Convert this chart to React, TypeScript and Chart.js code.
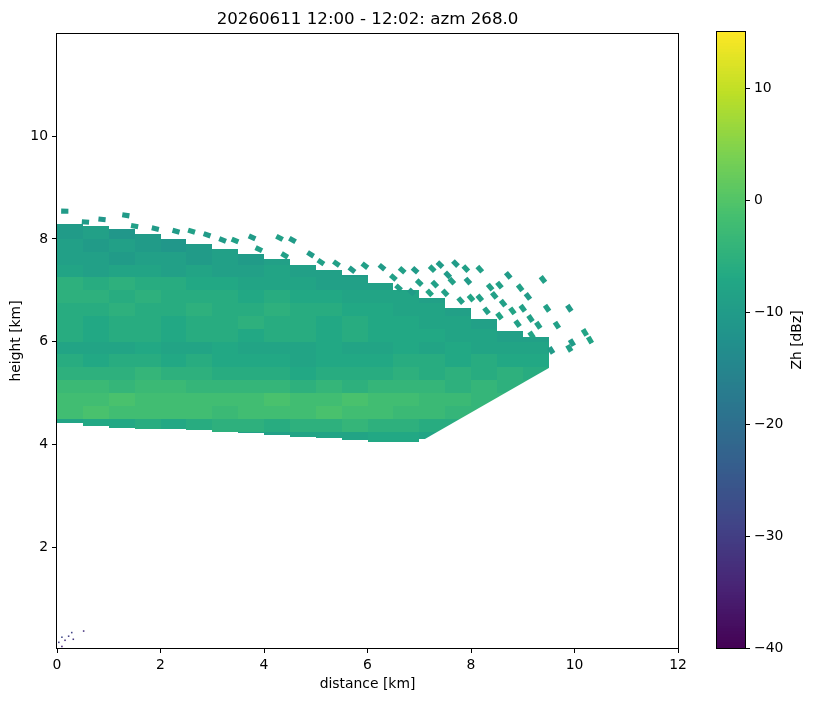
import React, { useEffect, useRef } from "react"
import { Chart, registerables } from "chart.js"

Chart.register(...registerables)
Chart.defaults.font.family = "DejaVu Sans"
Chart.defaults.color = "#000"

const titleText = "20260611 12:00 - 12:02: azm 268.0"
const xLabel = "distance [km]"
const yLabel = "height [km]"
const cbLabel = "Zh [dBz]"

const xTicks = [0, 2, 4, 6, 8, 10, 12]
const yTicks = [2, 4, 6, 8, 10]
const cbTicks = [-40, -30, -20, -10, 0, 10]
const zhMin = -40
const zhMax = 15

// lowest elevation of the scan (deg), everything below is not sampled
const lowestElevation = 30.0

// column centres (km) and row centres (km, top row first)
const distanceCenters = [0.25, 0.75, 1.25, 1.75, 2.25, 2.75, 3.25, 3.75, 4.25, 4.75, 5.25, 5.75, 6.25, 6.75, 7.25, 7.75, 8.25, 8.75, 9.25, 9.75, 10.25]
const heightCenters = [8.375, 8.125, 7.875, 7.625, 7.375, 7.125, 6.875, 6.625, 6.375, 6.125, 5.875, 5.625, 5.375, 5.125, 4.875, 4.625, 4.375, 4.125]

// echo layer base / top per column (km)
const layerBottom = [4.42, 4.35, 4.32, 4.3, 4.3, 4.28, 4.25, 4.22, 4.18, 4.15, 4.12, 4.08, 4.05, 4.05, 4.1, 4.1, 4.1, 4.1, 4.1, null, null]
const layerTop = [8.3, 8.25, 8.2, 8.1, 8.0, 7.9, 7.8, 7.7, 7.6, 7.5, 7.4, 7.3, 7.15, 7.0, 6.85, 6.65, 6.45, 6.2, 6.1, null, null]

const _ = null
// Zh (dBz), rows follow heightCenters, columns follow distanceCenters
const zhRows: (number | null)[][] = [
  [-10, -10, _, _, _, _, _, _, _, _, _, _, _, _, _, _, _, _, _, _, _],
  [-10, -9, -11, -10, _, _, _, _, _, _, _, _, _, _, _, _, _, _, _, _, _],
  [-9, -10, -9, -10, -11, -10, -9, _, _, _, _, _, _, _, _, _, _, _, _, _, _],
  [-9, -9, -10, -9, -9, -10, -9, -10, -9, _, _, _, _, _, _, _, _, _, _, _, _],
  [-8, -9, -8, -8, -9, -8, -9, -9, -8, -9, -9, -10, _, _, _, _, _, _, _, _, _],
  [-5, -6, -5, -6, -6, -7, -7, -8, -8, -8, -9, -9, -9, _, _, _, _, _, _, _, _],
  [-5, -5, -6, -5, -6, -6, -6, -7, -6, -7, -7, -8, -8, -8, -9, _, _, _, _, _, _],
  [-6, -6, -5, -6, -6, -5, -6, -6, -5, -6, -6, -7, -7, -8, -8, -9, _, _, _, _, _],
  [-6, -7, -6, -6, -7, -6, -6, -5, -6, -6, -7, -6, -7, -7, -8, -8, -9, _, _, _, _],
  [-6, -7, -6, -6, -7, -6, -6, -7, -6, -6, -7, -6, -7, -7, -7, -8, -8, -9, -9, _, _],
  [-8, -8, -8, -7, -8, -8, -7, -8, -8, -8, -7, -8, -8, -7, -8, -7, -8, -8, -8, _, _],
  [-6, -7, -6, -6, -7, -6, -7, -7, -7, -8, -7, -7, -7, -6, -6, -7, -6, -7, -7, _, _],
  [-5, -5, -5, -4, -5, -5, -6, -6, -6, -7, -6, -6, -6, -5, -6, -5, -6, -5, -6, _, _],
  [-3, -3, -4, -3, -3, -4, -4, -4, -4, -5, -4, -5, -4, -4, -4, -5, -4, -5, -5, _, _],
  [-2, -2, -1, -2, -2, -2, -2, -2, -1, -2, -2, -1, -2, -2, -3, -3, -4, -4, _, _, _],
  [-2, -1, -2, -2, -2, -2, -3, -2, -2, -2, -1, -2, -2, -3, -3, -4, -4, _, _, _, _],
  [-8, -7, -7, -6, -7, -6, -5, -5, -6, -5, -5, -4, -5, -5, -6, -6, _, _, _, _, _],
  [_, _, _, _, _, _, -10, -9, -9, -8, -8, -8, -7, -7, -8, -8, _, _, _, _, _],
]

// isolated gates above the layer: [distance km, height km, Zh dBz]
const fragments: [number, number, number][] = [
  [0.15, 8.54, -10], [0.55, 8.33, -10], [0.87, 8.38, -11], [1.33, 8.46, -10],
  [1.5, 8.25, -9], [1.9, 8.2, -10], [2.3, 8.15, -10], [2.6, 8.15, -9],
  [2.9, 8.08, -10], [3.2, 7.98, -10], [3.44, 7.97, -9], [3.77, 8.03, -10],
  [3.9, 7.8, -9], [4.3, 8.02, -9], [4.55, 7.98, -10], [4.4, 7.68, -9],
  [4.9, 7.7, -10], [5.1, 7.55, -9], [5.4, 7.52, -9], [5.7, 7.4, -10],
  [5.95, 7.48, -9], [6.28, 7.45, -10], [6.5, 7.25, -9], [6.67, 7.39, -9],
  [6.92, 7.39, -10], [7.0, 7.15, -9], [7.25, 7.42, -9], [7.4, 7.5, -10],
  [7.3, 7.12, -9], [7.63, 7.18, -9], [7.7, 7.52, -10], [7.9, 7.42, -9],
  [7.94, 7.18, -10], [8.17, 7.41, -9], [8.37, 7.06, -9], [8.72, 7.29, -10],
  [9.39, 7.21, -9], [8.0, 6.85, -8], [8.17, 6.85, -9], [8.45, 6.9, -9],
  [8.62, 6.75, -9], [8.8, 6.6, -8], [9.0, 6.65, -9], [9.1, 6.88, -10],
  [9.47, 6.65, -9], [9.9, 6.65, -10], [9.3, 6.32, -9], [9.66, 6.32, -9],
  [9.17, 6.13, -8], [9.55, 5.83, -10], [9.9, 5.87, -9], [9.95, 5.98, -10],
  [10.2, 6.18, -8], [10.3, 6.03, -8], [6.6, 7.05, -9], [6.85, 6.97, -10],
  [7.5, 6.95, -9], [7.8, 6.8, -9], [8.3, 6.6, -9], [8.55, 6.5, -8],
  [8.9, 6.35, -9], [9.15, 6.45, -9], [8.95, 7.05, -9], [7.55, 7.3, -10],
  [8.55, 7.1, -9], [7.2, 6.95, -8],
]

// ground clutter next to the radar: [distance km, height km, Zh dBz]
const clutter: [number, number, number][] = [
  [0.02, 0.13, -30], [0.08, 0.23, -28], [0.14, 0.17, -33], [0.21, 0.25, -30],
  [0.27, 0.32, -29], [0.3, 0.19, -31], [0.5, 0.35, -32], [0.08, 0.05, -34],
]

const COL_W = 0.5
const ROW_H = 0.25
const FRAG_LEN = 0.14
const FRAG_THICK = 0.1
const CLUTTER_SIZE = 0.03

const viridisStops = [
  [68, 1, 84], [72, 36, 117], [65, 68, 135], [53, 95, 141], [42, 120, 142],
  [33, 145, 140], [34, 168, 132], [68, 191, 112], [122, 209, 81], [189, 223, 38], [253, 231, 37],
]

function viridis(v: number) {
  const t = Math.min(1, Math.max(0, (v - zhMin) / (zhMax - zhMin))) * 10
  const i = Math.min(9, Math.floor(t))
  const f = t - i
  const a = viridisStops[i]
  const b = viridisStops[i + 1]
  const c = a.map((ch, k) => Math.round(ch + (b[k] - ch) * f))
  return `rgb(${c[0]},${c[1]},${c[2]})`
}

const tickFont = { size: 13.9 }

const fieldPlugin = {
  id: "field",
  beforeDatasetsDraw(chart: any) {
    const { ctx, chartArea: a } = chart
    const x = chart.scales.x
    const y = chart.scales.y
    ctx.save()
    ctx.beginPath()
    ctx.rect(a.left, a.top, a.width, a.height)
    ctx.clip()

    clutter.forEach(([d, h, v]) => {
      ctx.fillStyle = viridis(v)
      const px0 = x.getPixelForValue(d)
      const py0 = y.getPixelForValue(h + CLUTTER_SIZE)
      ctx.fillRect(px0, py0, Math.max(1.5, x.getPixelForValue(d + CLUTTER_SIZE) - px0), Math.max(1.5, y.getPixelForValue(h) - py0))
    })

    // only the part above the lowest beam is sampled
    const slope = Math.tan((lowestElevation * Math.PI) / 180)
    ctx.beginPath()
    ctx.moveTo(x.getPixelForValue(0), y.getPixelForValue(0))
    ctx.lineTo(x.getPixelForValue(12), y.getPixelForValue(12 * slope))
    ctx.lineTo(x.getPixelForValue(12), y.getPixelForValue(12))
    ctx.lineTo(x.getPixelForValue(0), y.getPixelForValue(12))
    ctx.closePath()
    ctx.clip()

    distanceCenters.forEach((d, i) => {
      const bottom = layerBottom[i]
      const top = layerTop[i]
      if (bottom == null || top == null) return
      heightCenters.forEach((h, j) => {
        const v = zhRows[j][i]
        if (v == null) return
        const h0 = Math.max(h - ROW_H / 2, bottom)
        const h1 = Math.min(h + ROW_H / 2, top)
        if (h1 <= h0) return
        const px0 = Math.round(x.getPixelForValue(d - COL_W / 2))
        const px1 = Math.round(x.getPixelForValue(d + COL_W / 2))
        const py0 = Math.round(y.getPixelForValue(h1))
        const py1 = Math.round(y.getPixelForValue(h0))
        ctx.fillStyle = viridis(v)
        ctx.fillRect(px0, py0, px1 - px0, py1 - py0)
      })
    })

    fragments.forEach(([d, h, v]) => {
      const th = Math.atan2(h, d)
      const rx = Math.cos(th), ry = Math.sin(th)
      const ux = -ry, uy = rx
      const corners = [
        [d + (ux * FRAG_LEN) / 2 + (rx * FRAG_THICK) / 2, h + (uy * FRAG_LEN) / 2 + (ry * FRAG_THICK) / 2],
        [d + (ux * FRAG_LEN) / 2 - (rx * FRAG_THICK) / 2, h + (uy * FRAG_LEN) / 2 - (ry * FRAG_THICK) / 2],
        [d - (ux * FRAG_LEN) / 2 - (rx * FRAG_THICK) / 2, h - (uy * FRAG_LEN) / 2 - (ry * FRAG_THICK) / 2],
        [d - (ux * FRAG_LEN) / 2 + (rx * FRAG_THICK) / 2, h - (uy * FRAG_LEN) / 2 + (ry * FRAG_THICK) / 2],
      ]
      ctx.beginPath()
      corners.forEach(([cd, ch], k) => {
        const px = x.getPixelForValue(cd)
        const py = y.getPixelForValue(ch)
        if (k === 0) ctx.moveTo(px, py)
        else ctx.lineTo(px, py)
      })
      ctx.closePath()
      ctx.fillStyle = viridis(v)
      ctx.fill()
    })
    ctx.restore()
  },
}

const framePlugin = {
  id: "frame",
  afterDraw(chart: any) {
    const { ctx, chartArea: a } = chart
    ctx.save()
    ctx.strokeStyle = "#000"
    ctx.lineWidth = 1
    ctx.strokeRect(Math.round(a.left) - 0.5, Math.round(a.top) - 0.5, Math.round(a.width) + 1, Math.round(a.height) + 1)
    ctx.restore()
  },
}

const colorbarPlugin = {
  id: "colorbar",
  beforeDatasetsDraw(chart: any) {
    const { ctx, chartArea: a } = chart
    const y = chart.scales.y
    const step = 0.25
    ctx.save()
    for (let v = zhMin; v < zhMax; v += step) {
      const py0 = Math.round(y.getPixelForValue(v + step))
      const py1 = Math.round(y.getPixelForValue(v))
      ctx.fillStyle = viridis(v + step / 2)
      ctx.fillRect(a.left, py0, a.width, py1 - py0)
    }
    ctx.restore()
  },
  afterDraw(chart: any) {
    const { ctx, chartArea: a } = chart
    ctx.save()
    ctx.translate(97, (a.top + a.bottom) / 2)
    ctx.rotate(-Math.PI / 2)
    ctx.font = "13.9px 'DejaVu Sans'"
    ctx.fillStyle = "#000"
    ctx.textAlign = "center"
    ctx.textBaseline = "middle"
    ctx.fillText(cbLabel, 0, 0)
    ctx.restore()
  },
}

const minus = (v: number) => (v < 0 ? "\u2212" + Math.abs(v) : String(v))

const tickGrid = { display: true, drawOnChartArea: false, drawTicks: true, tickLength: 5, color: "#000", lineWidth: 1 }

const App: React.FC = () => {
  const mainRef = useRef<HTMLCanvasElement>(null)
  const barRef = useRef<HTMLCanvasElement>(null)

  useEffect(() => {
    const mainCtx = mainRef.current?.getContext("2d")
    const barCtx = barRef.current?.getContext("2d")
    if (!mainCtx || !barCtx) return

    const main = new Chart(mainCtx, {
      type: "scatter",
      data: { datasets: [{ data: [] }] },
      plugins: [fieldPlugin, framePlugin],
      options: {
        responsive: false,
        animation: false,
        layout: { padding: { left: 0, right: 22, top: 0, bottom: 0 } },
        plugins: {
          legend: { display: false },
          tooltip: { enabled: false },
          title: {
            display: true,
            text: titleText,
            fullSize: false,
            font: { size: 16.67, weight: "normal" },
            padding: { top: 10, bottom: 4 },
          },
        },
        scales: {
          x: {
            type: "linear",
            min: 0,
            max: 12,
            border: { display: false },
            grid: tickGrid,
            ticks: { font: tickFont, padding: 4, maxRotation: 0 },
            title: { display: true, text: xLabel, font: tickFont, padding: { top: 0, bottom: 8.7 } },
            afterBuildTicks: (s: any) => {
              s.ticks = xTicks.map((value) => ({ value }))
            },
            afterFit: (s: any) => {
              s.height = 53
              s.paddingLeft = 0
              s.paddingRight = 0
            },
          },
          y: {
            type: "linear",
            min: 0.035,
            max: 11.99,
            border: { display: false },
            grid: tickGrid,
            ticks: { font: tickFont, padding: 4 },
            title: { display: true, text: yLabel, font: tickFont, padding: { top: 7.7, bottom: 0 } },
            afterBuildTicks: (s: any) => {
              s.ticks = yTicks.map((value) => ({ value }))
            },
            afterFit: (s: any) => {
              s.width = 57
              s.paddingTop = 0
              s.paddingBottom = 0
            },
          },
        },
      },
    } as any)

    const bar = new Chart(barCtx, {
      type: "scatter",
      data: { datasets: [{ data: [] }] },
      plugins: [colorbarPlugin, framePlugin],
      options: {
        responsive: false,
        animation: false,
        layout: { padding: { left: 17, right: 0, top: 32, bottom: 53 } },
        plugins: { legend: { display: false }, tooltip: { enabled: false } },
        scales: {
          x: { type: "linear", display: false, min: 0, max: 1 },
          y: {
            type: "linear",
            position: "right",
            min: zhMin,
            max: zhMax,
            border: { display: false },
            grid: tickGrid,
            ticks: { font: tickFont, padding: 4, callback: (v: any) => minus(Number(v)) },
            afterBuildTicks: (s: any) => {
              s.ticks = cbTicks.map((value) => ({ value }))
            },
            afterFit: (s: any) => {
              s.width = 69
              s.paddingTop = 0
              s.paddingBottom = 0
            },
          },
        },
      },
    } as any)

    return () => {
      main.destroy()
      bar.destroy()
    }
  }, [])

  return (
    <div style={{ position: "fixed", left: 0, top: 0, width: 814, height: 701, background: "#fff" }}>
      <canvas ref={mainRef} width={700} height={701} style={{ position: "absolute", left: 0, top: 0 }} />
      <canvas ref={barRef} width={114} height={701} style={{ position: "absolute", left: 700, top: 0 }} />
    </div>
  )
}

export default App
